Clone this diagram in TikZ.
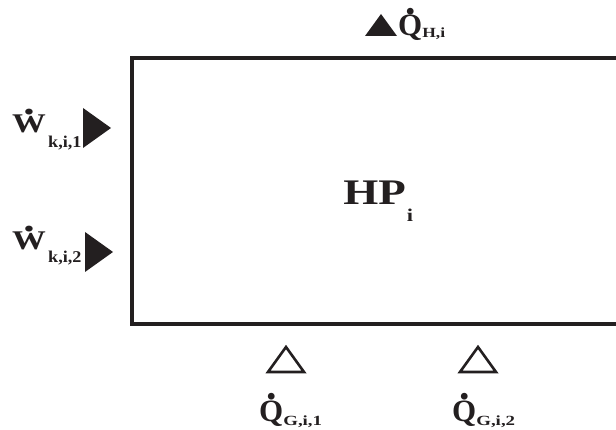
\documentclass[tikz,border=0pt]{standalone}
\usepackage{fontspec}
\setmainfont{Liberation Serif}
\usetikzlibrary{calc}

% Dotted (rate) letter and lowered, widened subscript
\newcommand{\rate}[1]{\ooalign{#1\cr\hidewidth\raisebox{0.70em}{\scalebox{1.35}{.}}\hidewidth\cr}}
\newcommand{\lowsub}[4]{\raisebox{-#1}{\scalebox{#4}[1]{\fontsize{#2}{#2}\selectfont #3}}}

\begin{document}
\begin{tikzpicture}[x=1pt, y=-1pt]
    % Define colours
    \definecolor{borderColour}{HTML}{231F20}

    % Define styles
    \tikzset{
        lbl/.style={inner sep=0pt, anchor=base west, text=borderColour,
            font=\bfseries\fontsize{31}{33}\selectfont},
        wideLbl/.style={lbl, font=\bfseries\fontsize{27}{29}\selectfont, xscale=1.25, transform shape},
        solidTri/.style={fill=borderColour, draw=none},
        openTri/.style={draw=borderColour, line width=2.6pt, line join=miter}
    }

    % Fix the margins
    \useasboundingbox (0,0) rectangle (616,430);

    % Draw the box (right side is open)
    \draw[borderColour, line width=3.8pt, line join=miter]
        (618,58) -- (132,58) -- (132,324) -- (618,324);

    % Box label
    \node[lbl, font=\bfseries\fontsize{36}{38}\selectfont, xscale=1.25, transform shape] (hp) at (343,205)
        {HP\kern1pt\lowsub{17pt}{18}{i}{1}};

    % Heat output at the top
    \coordinate (qhTri) at (381,36);
    \fill[solidTri] ($(qhTri)+(-16,0)$) -- ($(qhTri)+(16,0)$) -- ($(qhTri)+(0,-22)$) -- cycle;
    \node[lbl] (qh) at (398,36) {\rate{Q}\lowsub{2pt}{14}{H,i}{1.25}};

    % Work inputs on the left
    \coordinate (wOneTri) at (83,128);
    \coordinate (wTwoTri) at (85,252);
    \foreach \t in {wOneTri, wTwoTri}
        \fill[solidTri] ($(\t)+(0,-20)$) -- ($(\t)+(0,20)$) -- ($(\t)+(28,0)$) -- cycle;
    \node[wideLbl] (wOne) at (12,133) {\rate{W}};
    \node[lbl, anchor=base west] (wOneSub) at (48,148) {\scalebox{1.1}[1]{\fontsize{16.5}{16.5}\selectfont k,i,1}};
    \node[wideLbl] (wTwo) at (12,250) {\rate{W}};
    \node[lbl, anchor=base west] (wTwoSub) at (48,263) {\scalebox{1.1}[1]{\fontsize{16.5}{16.5}\selectfont k,i,2}};

    % Heat inputs at the bottom
    \coordinate (qgOneTri) at (286,372);
    \coordinate (qgTwoTri) at (478,372);
    \foreach \t in {qgOneTri, qgTwoTri}
        \draw[openTri] ($(\t)+(-18,0)$) -- ($(\t)+(18,0)$) -- ($(\t)+(0,-25)$) -- cycle;
    \node[lbl] (qgOne) at (259,421) {\rate{Q}\lowsub{4pt}{14}{G,i,1}{1.35}};
    \node[lbl] (qgTwo) at (452,421) {\rate{Q}\lowsub{4pt}{14}{G,i,2}{1.35}};

\end{tikzpicture}
\end{document}
